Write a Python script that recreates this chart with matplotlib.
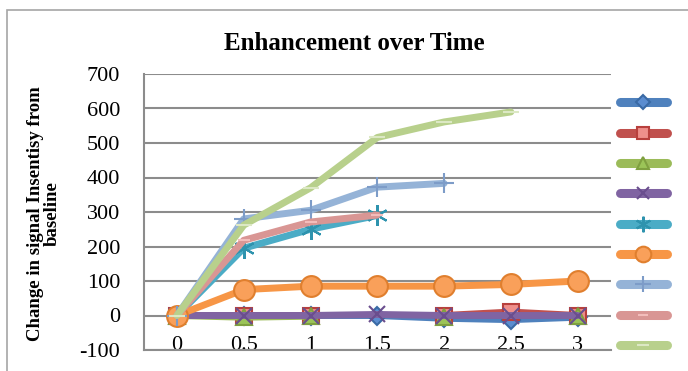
import numpy as np
import matplotlib
matplotlib.use("Agg")
import matplotlib.pyplot as plt
from matplotlib.patches import Rectangle

# dados
tempos = ["0", "0.5", "1", "1.5", "2", "2.5", "3"]
nan = np.nan
serie1 = [0, 0, 0, 0, -8, -12, -5]
serie2 = [0, 0, 0, nan, 0, 10, 0]
serie3 = [0, -5, -2, nan, -5, nan, 0]
serie4 = [0, 0, 0, 3, 0, 0, 0]
serie5 = [0, 195, 250, 290]
serie6 = [0, 75, 85, 85, 85, 90, 100]
serie7 = [0, 280, 305, 372, 383]
serie8 = [0, 218, 271, 291]
serie9 = [0, 262, 370, 516, 561, 590]

series = [serie1, serie2, serie3, serie4, serie5, serie6, serie7, serie8, serie9]

# estilo de cada serie: cor da linha, marcador, tamanho, preenchimento, borda
estilos = [
    ("#4F81BD", "D", 9, "#5B8DD0", "#3A6AA5"),
    ("#C0504D", "s", 12, "#EE8F8B", "#B8403D"),
    ("#9BBB59", "^", 11, "#9BC458", "#7FA040"),
    ("#8064A2", "x", 12, "#8064A2", "#6A4E8E"),
    ("#4BACC6", (6, 2, 0), 15, "#4BACC6", "#2E93AE"),
    ("#F79646", "o", 15, "#F9A05A", "#E07F2E"),
    ("#95B3D7", "+", 15, "#95B3D7", "#7D9CC8"),
    ("#D99694", "_", 9, "#F3BDBB", "#F3BDBB"),
    ("#B8D08C", "_", 11, "#DCE8C4", "#DCE8C4"),
]

plt.rcParams['font.family'] = ['Liberation Serif', 'DejaVu Serif']
plt.rcParams['axes.unicode_minus'] = False

fig = plt.figure(figsize=(6.88, 3.71), dpi=100)
ax = fig.add_axes([143.6 / 688, 1 - 350 / 371, (611 - 143.6) / 688, (350 - 74) / 371])

# moldura do grafico
fig.patches.append(Rectangle((6.5 / 688, -0.1), 1.2, 1 - 10 / 371 + 0.1,
                             transform=fig.transFigure, fill=False,
                             edgecolor="#A6A6A6", lw=1.2))

handles = []
for valores, (cor, mk, ms, face, borda) in zip(series, estilos):
    x = np.arange(len(valores))
    linha, = ax.plot(x, valores, color=cor, lw=5, marker=mk, markersize=ms,
                     markerfacecolor=face, markeredgecolor=borda,
                     markeredgewidth=1.5, solid_capstyle="round",
                     solid_joinstyle="round", clip_on=False)
    handles.append(linha)

ax.set_xlim(-0.5, 6.5)
ax.set_ylim(-100, 700)
ax.set_yticks(np.arange(-100, 701, 100))
ax.set_xticks(np.arange(len(tempos)))
ax.set_xticklabels(tempos)
ax.tick_params(axis="x", length=0, pad=-10, labelsize=16)
ax.tick_params(axis="y", length=0, pad=17, labelsize=16)
ax.grid(axis="y", color="#8C8C8C", lw=1.5)
ax.set_axisbelow(True)
for lado in ["top", "right"]:
    ax.spines[lado].set_visible(False)
for lado in ["left", "bottom"]:
    ax.spines[lado].set_color("#8C8C8C")
    ax.spines[lado].set_linewidth(1.5)

fig.text(354 / 688, 1 - 43 / 371, "Enhancement over Time", ha="center", va="center",
         fontsize=18, fontweight="bold")
fig.text(44 / 688, 1 - 214 / 371, "Change in signal Insentisy from\nbaseline",
         rotation=90, ha="center", va="center", fontsize=13.5,
         fontweight="bold", linespacing=1.0)

leg = ax.legend(handles, [""] * len(handles), loc="upper left",
                bbox_to_anchor=(619.5 / 688, 1 - 97 / 371), bbox_transform=fig.transFigure,
                frameon=False, handlelength=3.4, numpoints=1, fontsize=10,
                labelspacing=1.25, handletextpad=0, borderpad=0, borderaxespad=0)
for h in leg.legend_handles:
    h.set_linewidth(6.5)
    h.set_markersize(h.get_markersize() * 0.75)

fig.savefig("out.png", dpi=100)
